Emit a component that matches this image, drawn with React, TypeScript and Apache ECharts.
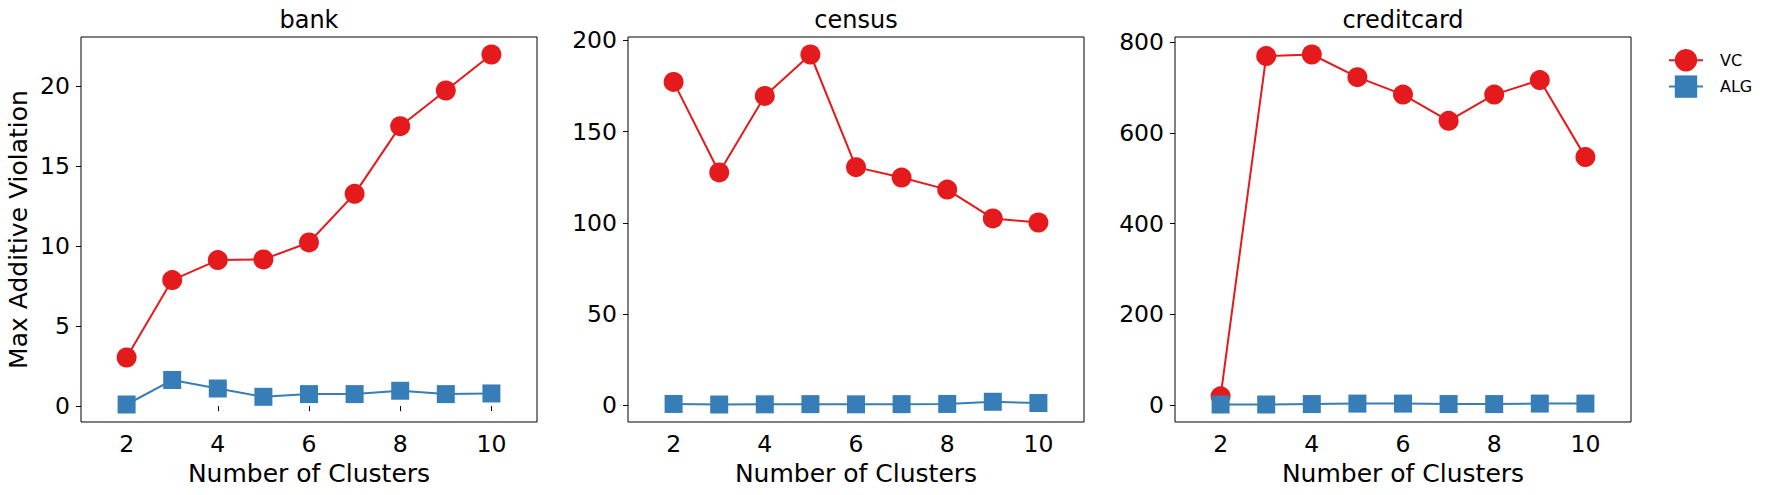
import React, { useEffect, useRef } from "react";
import * as echarts from "echarts";

const clusters = [2, 3, 4, 5, 6, 7, 8, 9, 10];
const panelTitles = ["bank", "census", "creditcard"];
const bankVC = [3.04, 7.88, 9.13, 9.17, 10.23, 13.27, 17.5, 19.73, 21.98];
const bankALG = [0.1, 1.63, 1.1, 0.58, 0.75, 0.75, 0.96, 0.75, 0.79];
const censusVC = [177.2, 127.6, 169.5, 192.2, 130.5, 124.8, 118.2, 102.4, 100.2];
const censusALG = [0.8, 0.5, 0.6, 0.7, 0.6, 0.7, 0.8, 2.0, 1.3];
const creditVC = [19, 770, 773.5, 723.5, 685, 627, 685, 717, 547];
const creditALG = [1, 1, 2, 3, 3, 2, 2, 3, 3];
const xTicks = [2, 4, 6, 8, 10];
const bankTicks = [0, 5, 10, 15, 20];
const censusTicks = [0, 50, 100, 150, 200];
const creditTicks = [0, 200, 400, 600, 800];

const RED = "#e41a1c";
const BLUE = "#377eb8";
const FONT = "DejaVu Sans";

export default function App() {
  const ref = useRef<HTMLDivElement>(null);
  useEffect(() => {
    if (!ref.current) return;
    const chart = echarts.init(ref.current, null, { renderer: "svg" });
    const panels = [
      { vc: bankVC, alg: bankALG, ticks: bankTicks },
      { vc: censusVC, alg: censusALG, ticks: censusTicks },
      { vc: creditVC, alg: creditALG, ticks: creditTicks },
    ];
    const gridLeft = [81, 628, 1175];
    const grids = gridLeft.map((l) => ({
      left: l,
      top: 37,
      width: 456,
      height: 385,
      show: true,
      borderColor: "#000",
      borderWidth: 1,
      backgroundColor: "transparent",
    }));
    const xAxes = panels.map((_, i) => ({
      type: "value",
      gridIndex: i,
      min: 1,
      max: 11,
      axisLine: { show: false },
      splitLine: { show: false },
      axisTick: { show: true, customValues: xTicks, length: 5, lineStyle: { color: "#000" } },
      axisLabel: { customValues: xTicks, color: "#000", fontSize: 23.5, fontFamily: FONT, margin: 10 },
      name: "Number of Clusters",
      nameLocation: "middle",
      nameGap: 32,
      nameTextStyle: { color: "#000", fontSize: 25, fontFamily: FONT },
    }));
    const yAxes = panels.map((p, i) => {
      const all = p.vc.concat(p.alg);
      const lo = Math.min(...all);
      const hi = Math.max(...all);
      const pad = (hi - lo) * 0.05;
      return {
        type: "value",
        gridIndex: i,
        min: lo - pad,
        max: hi + pad,
        axisLine: { show: false },
        splitLine: { show: false },
        axisTick: { show: true, customValues: p.ticks, length: 5, lineStyle: { color: "#000" } },
        axisLabel: { customValues: p.ticks, color: "#000", fontSize: 23.5, fontFamily: FONT, margin: 11 },
        name: i === 0 ? "Max Additive Violation" : "",
        nameLocation: "middle",
        nameGap: 50,
        nameTextStyle: { color: "#000", fontSize: 25, fontFamily: FONT },
      };
    });
    const series: any[] = [];
    panels.forEach((p, i) => {
      series.push({
        name: "VC",
        type: "line",
        xAxisIndex: i,
        yAxisIndex: i,
        data: clusters.map((c, k) => [c, p.vc[k]]),
        symbol: "circle",
        symbolSize: 20,
        showAllSymbol: true,
        itemStyle: { color: RED },
        lineStyle: { color: RED, width: 2 },
      });
      series.push({
        name: "ALG",
        type: "line",
        xAxisIndex: i,
        yAxisIndex: i,
        data: clusters.map((c, k) => [c, p.alg[k]]),
        symbol: "rect",
        symbolSize: 18,
        showAllSymbol: true,
        itemStyle: { color: BLUE },
        lineStyle: { color: BLUE, width: 2 },
      });
    });
    chart.setOption({
      animation: false,
      backgroundColor: "#fff",
      title: panelTitles.map((t, i) => ({
        text: t,
        left: gridLeft[i] + 228,
        top: 8,
        padding: 0,
        textAlign: "center",
        textStyle: { color: "#000", fontSize: 24, fontWeight: "normal", fontFamily: FONT },
      })),
      legend: {
        data: ["VC", "ALG"],
        orient: "vertical",
        left: 1668,
        top: 49,
        padding: 0,
        itemWidth: 34,
        itemHeight: 28,
        itemGap: 4,
        textStyle: { color: "#000", fontSize: 16, fontFamily: FONT, padding: [0, 0, 0, 12] },
      },
      grid: grids,
      xAxis: xAxes,
      yAxis: yAxes,
      series,
    } as any);
    return () => chart.dispose();
  }, []);
  return (
    <div
      ref={ref}
      style={{ position: "fixed", left: 0, top: 0, width: 1765, height: 495, background: "#fff" }}
    />
  );
}
